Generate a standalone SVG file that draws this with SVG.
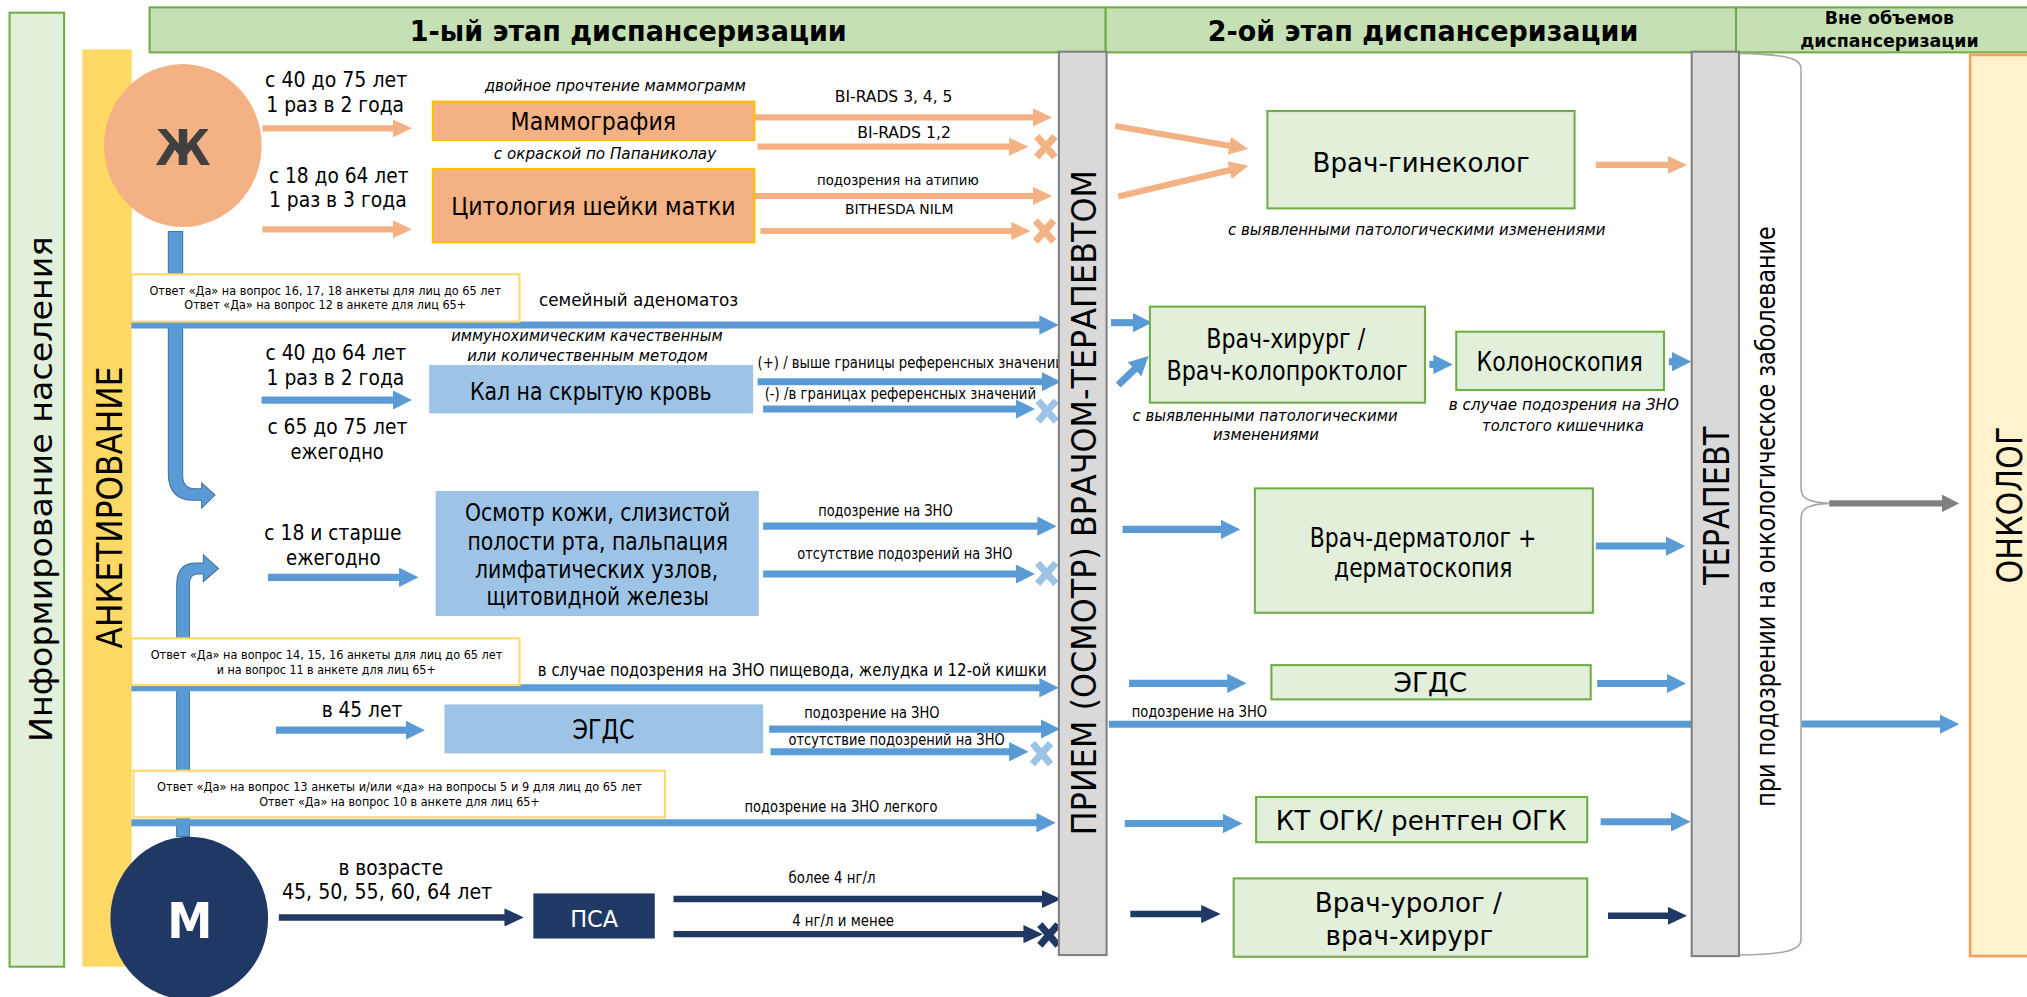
<svg xmlns="http://www.w3.org/2000/svg" width="2027" height="997" viewBox="0 0 2027 997">
<defs>
<style>
.t{font-family:"DejaVu Sans Condensed","DejaVu Sans",sans-serif;fill:#000}
.rt{font-family:"DejaVu Sans","Noto Sans",sans-serif;fill:#000}
.i{font-style:italic}
.b{font-weight:bold}
.green{fill:#E2EFDA;stroke:#70AD47;stroke-width:1.6}
.hdr{fill:#C5E0B4;stroke:#70AD47;stroke-width:1.6}
.org{fill:#F4B183;stroke:#FFC000;stroke-width:1.6}
.blu{fill:#9DC3E6}
.note{fill:#fff;stroke:#FFD966;stroke-width:1.6}
.bar{fill:#D9D9D9;stroke:#7F7F7F;stroke-width:1.6}
.ao{stroke:#F4B183;stroke-width:4.8;fill:none;marker-end:url(#mo)}
.ab{stroke:#5B9BD5;stroke-width:5.5;fill:none;marker-end:url(#mb)}
.ad{stroke:#203864;stroke-width:5;fill:none;marker-end:url(#md)}
.ag{stroke:#808080;stroke-width:4.7;fill:none;marker-end:url(#mg)}
.ln{stroke:#5B9BD5;stroke-width:5.5;fill:none}
.bent{fill:#5B9BD5;stroke:#41719C;stroke-width:0.8}
.xo{stroke:#F4B183}
.xb{stroke:#9DC3E6}
.xd{stroke:#203864}
</style>
<marker id="mo" markerUnits="userSpaceOnUse" markerWidth="15" markerHeight="14" viewBox="0 0 15 14" refX="1" refY="7" orient="auto"><path d="M0,0 L15,7 L0,14 Z" fill="#F4B183"/></marker>
<marker id="mb" markerUnits="userSpaceOnUse" markerWidth="15" markerHeight="15" viewBox="0 0 15 15" refX="1" refY="7.5" orient="auto"><path d="M0,0 L15,7.5 L0,15 Z" fill="#5B9BD5"/></marker>
<marker id="md" markerUnits="userSpaceOnUse" markerWidth="15" markerHeight="14" viewBox="0 0 15 14" refX="1" refY="7" orient="auto"><path d="M0,0 L15,7 L0,14 Z" fill="#203864"/></marker>
<marker id="mg" markerUnits="userSpaceOnUse" markerWidth="13.5" markerHeight="13.6" viewBox="0 0 13.5 13.6" refX="1" refY="6.8" orient="auto"><path d="M0,0 L13.5,6.8 L0,13.6 Z" fill="#808080"/></marker>
<path id="xm" d="M-7,-8 L7,8 M-7,8 L7,-8" fill="none" stroke-width="5.5"/>
</defs>
<rect width="2027" height="997" fill="#fff"/>
<g transform="scale(1.29273)">

<g id="n-inform">
<rect x="7.4" y="9.8" width="42.2" height="738" fill="#E2EFDA" stroke="#70AD47" stroke-width="1.6"/>
<text class="rt" font-size="24" text-anchor="middle" textLength="391" lengthAdjust="spacingAndGlyphs" transform="translate(40.3,378.5) rotate(-90)">Информирование населения</text>
</g>
<g id="n-anket">
<rect x="63.7" y="38.2" width="38.2" height="709.6" fill="#FFD966"/>
<text class="rt" font-size="28" text-anchor="middle" textLength="218" lengthAdjust="spacingAndGlyphs" transform="translate(94,392.6) rotate(-90)">АНКЕТИРОВАНИЕ</text>
</g>
<g id="n-header1">
<rect class="hdr" x="115.7" y="5.7" width="739.6" height="34.8"/>
<text class="t b" font-size="22" x="486" y="31.8" text-anchor="middle" textLength="338" lengthAdjust="spacingAndGlyphs">1-ый этап диспансеризации</text>
</g>
<g id="n-header2">
<rect class="hdr" x="855.3" y="5.7" width="487.6" height="34.8"/>
<text class="t b" font-size="22" x="1100.8" y="31.8" text-anchor="middle" textLength="333" lengthAdjust="spacingAndGlyphs">2-ой этап диспансеризации</text>
</g>
<g id="n-header3">
<rect class="hdr" x="1342.9" y="5.7" width="235" height="34.8"/>
<text class="t b" font-size="14" x="1461.6" y="18.8" text-anchor="middle" textLength="100" lengthAdjust="spacingAndGlyphs">Вне объемов</text>
<text class="t b" font-size="14" x="1461.6" y="36.4" text-anchor="middle" textLength="138" lengthAdjust="spacingAndGlyphs">диспансеризации</text>
</g>

<g id="connectors">
<path class="bent" d="M130.2,179 H141.3 V368 Q141.3,378 151,378 H156 V373.5 L166.3,383 L156,393 V387 H150 Q130.2,387 130.2,366 Z"/>
<path class="bent" d="M136.7,647 V452 Q136.7,435.5 152,435.5 H157.3 V429.3 L169,439.7 L157.3,450 V444 H153 Q146.5,444 146.5,452 V647 Z"/>
<line class="ab" x1="101.6" y1="251.4" x2="805" y2="251.4"/>
<line class="ab" x1="101.6" y1="532" x2="805" y2="532"/>
<line class="ab" x1="101.6" y1="636.4" x2="802.7" y2="636.4"/>

<line class="ao" x1="203" y1="99.3" x2="304.7" y2="99.3"/>
<line class="ao" x1="203" y1="177.4" x2="304.7" y2="177.4"/>
<line class="ao" x1="583.6" y1="90.8" x2="800" y2="90.8"/>
<line class="ao" x1="586" y1="113.5" x2="781.6" y2="113.5"/>
<use href="#xm" class="xo" x="809" y="113.5"/>
<line class="ao" x1="583.6" y1="151.6" x2="800" y2="151.6"/>
<line class="ao" x1="588.3" y1="178.7" x2="783.3" y2="178.7"/>
<use href="#xm" class="xo" x="808" y="178.7"/>
<line class="ao" x1="862.7" y1="97.5" x2="951.9" y2="112.9"/>
<line class="ao" x1="865" y1="152" x2="952.1" y2="131.4"/>
<line class="ao" x1="1234.5" y1="127.6" x2="1291" y2="127.6"/>

<line class="ab" x1="859.4" y1="249.6" x2="877.2" y2="249.6"/>
<line class="ab" x1="865" y1="297.8" x2="878.4" y2="285"/>
<line class="ab" x1="1105.7" y1="281.9" x2="1109.8" y2="281.9"/>
<line class="ab" x1="1290.9" y1="279.8" x2="1294.3" y2="279.8"/>
<line class="ab" x1="202.3" y1="309.5" x2="304.7" y2="309.5"/>
<line class="ab" x1="586" y1="295.3" x2="806.8" y2="295.3"/>
<line class="ab" x1="590.3" y1="316.4" x2="786.6" y2="316.4"/>
<use href="#xm" class="xb" x="810" y="318"/>
<line class="ab" x1="207.3" y1="446.6" x2="309.7" y2="446.6"/>
<line class="ab" x1="590.3" y1="407" x2="803.4" y2="407"/>
<line class="ab" x1="590.3" y1="444" x2="786.6" y2="444"/>
<use href="#xm" class="xb" x="809.7" y="443.5"/>
<line class="ab" x1="868.4" y1="409.5" x2="945.3" y2="409.5"/>
<line class="ab" x1="1234.5" y1="422.4" x2="1289.6" y2="422.4"/>
<line class="ab" x1="873.4" y1="528.6" x2="950.3" y2="528.6"/>
<line class="ab" x1="1235.5" y1="528.7" x2="1290.3" y2="528.7"/>
<line class="ab" x1="213.4" y1="564.8" x2="314.7" y2="564.8"/>
<line class="ab" x1="595" y1="564" x2="806" y2="564"/>
<line class="ab" x1="596" y1="581.5" x2="781.6" y2="581.5"/>
<use href="#xm" class="xb" x="805.7" y="583"/>
<line class="ln" x1="857.7" y1="560.2" x2="1330" y2="560.2"/>
<line class="ab" x1="1393.2" y1="560.1" x2="1501.6" y2="560.1"/>
<line class="ab" x1="870.1" y1="637" x2="947" y2="637"/>
<line class="ab" x1="1238.2" y1="635.7" x2="1293.6" y2="635.7"/>

<line class="ad" x1="215.7" y1="709.7" x2="391.2" y2="709.7"/>
<line class="ad" x1="521" y1="695.5" x2="806.8" y2="695.5"/>
<line class="ad" x1="521" y1="722.6" x2="792.7" y2="722.6"/>
<use href="#xm" class="xd" x="811.4" y="723.3"/>
<line class="ad" x1="874.4" y1="707.1" x2="930.2" y2="707.1"/>
<line class="ad" x1="1243.9" y1="708.4" x2="1291" y2="708.4"/>

<line class="ag" x1="1415" y1="389.4" x2="1503.1" y2="389.4"/>
</g>

<g id="n-note1">
<rect class="note" x="101.6" y="212.2" width="300.3" height="36.6"/>
<text class="t" font-size="10" x="251.6" y="228.3" text-anchor="middle" textLength="272" lengthAdjust="spacingAndGlyphs">Ответ «Да» на вопрос 16, 17, 18 анкеты для лиц до 65 лет</text>
<text class="t" font-size="10" x="251.6" y="239.4" text-anchor="middle" textLength="218" lengthAdjust="spacingAndGlyphs">Ответ «Да» на вопрос 12 в анкете для лиц 65+</text>
</g>
<g id="n-note2">
<rect class="note" x="101.6" y="493.8" width="300.3" height="36.2"/>
<text class="t" font-size="10" x="252.6" y="510" text-anchor="middle" textLength="272" lengthAdjust="spacingAndGlyphs">Ответ «Да» на вопрос 14, 15, 16 анкеты для лиц до 65 лет</text>
<text class="t" font-size="10" x="252.4" y="521.6" text-anchor="middle" textLength="169.4" lengthAdjust="spacingAndGlyphs">и на вопрос 11 в анкете для лиц 65+</text>
</g>
<g id="n-note3">
<rect class="note" x="103.3" y="596.2" width="411" height="36.1"/>
<text class="t" font-size="10" x="309" y="612" text-anchor="middle" textLength="375" lengthAdjust="spacingAndGlyphs">Ответ «Да» на вопрос 13 анкеты и/или «да» на вопросы 5 и 9 для лиц до 65 лет</text>
<text class="t" font-size="10" x="309" y="623.6" text-anchor="middle" textLength="217" lengthAdjust="spacingAndGlyphs">Ответ «Да» на вопрос 10 в анкете для лиц 65+</text>
</g>

<g id="n-zh">
<ellipse cx="141.4" cy="112.6" rx="61" ry="63" fill="#F4B183"/>
<text class="t b" font-size="39" x="141.5" y="127.8" text-anchor="middle" style="fill:#404040">Ж</text>
</g>
<g id="n-m">
<ellipse cx="146.4" cy="710.3" rx="61" ry="63" fill="#203864"/>
<text class="t b" font-size="39" x="146.8" y="725.9" text-anchor="middle" style="fill:#fff">М</text>
</g>

<g id="l-ages">
<text class="t" font-size="16.5" x="260" y="67.3" text-anchor="middle" textLength="110" lengthAdjust="spacingAndGlyphs">с 40 до 75 лет</text>
<text class="t" font-size="16.5" x="259.3" y="86.6" text-anchor="middle" textLength="106.6" lengthAdjust="spacingAndGlyphs">1 раз в 2 года</text>
<text class="t" font-size="16.5" x="262" y="141.3" text-anchor="middle" textLength="108" lengthAdjust="spacingAndGlyphs">с 18 до 64 лет</text>
<text class="t" font-size="16.5" x="261.3" y="160.1" text-anchor="middle" textLength="106.6" lengthAdjust="spacingAndGlyphs">1 раз в 3 года</text>
<text class="t" font-size="16.5" x="259.8" y="278.7" text-anchor="middle" textLength="109" lengthAdjust="spacingAndGlyphs">с 40 до 64 лет</text>
<text class="t" font-size="16.5" x="259.5" y="298.1" text-anchor="middle" textLength="106.6" lengthAdjust="spacingAndGlyphs">1 раз в 2 года</text>
<text class="t" font-size="16.5" x="261" y="336" text-anchor="middle" textLength="108.3" lengthAdjust="spacingAndGlyphs">с 65 до 75 лет</text>
<text class="t" font-size="16.5" x="260.8" y="355" text-anchor="middle" textLength="72" lengthAdjust="spacingAndGlyphs">ежегодно</text>
<text class="t" font-size="16.5" x="257.5" y="418" text-anchor="middle" textLength="106" lengthAdjust="spacingAndGlyphs">с 18 и старше</text>
<text class="t" font-size="16.5" x="257.8" y="437.2" text-anchor="middle" textLength="73" lengthAdjust="spacingAndGlyphs">ежегодно</text>
<text class="t" font-size="16.5" x="280" y="554.8" text-anchor="middle" textLength="62.4" lengthAdjust="spacingAndGlyphs">в 45 лет</text>
<text class="t" font-size="16.5" x="302.3" y="677.2" text-anchor="middle" textLength="81" lengthAdjust="spacingAndGlyphs">в возрасте</text>
<text class="t" font-size="16.5" x="299.4" y="695.3" text-anchor="middle" textLength="162.7" lengthAdjust="spacingAndGlyphs">45, 50, 55, 60, 64 лет</text>
</g>

<g id="n-mammo">
<rect class="org" x="334.8" y="78.6" width="248.8" height="29.7"/>
<text class="t" font-size="19" x="459" y="100.5" text-anchor="middle" textLength="128" lengthAdjust="spacingAndGlyphs">Маммография</text>
</g>
<g id="n-cyto">
<rect class="org" x="334.8" y="130.7" width="248.8" height="56.8"/>
<text class="t" font-size="19" x="459" y="166.6" text-anchor="middle" textLength="220" lengthAdjust="spacingAndGlyphs">Цитология шейки матки</text>
</g>
<g id="n-kal">
<rect class="blu" x="332" y="282.4" width="250.6" height="37.4"/>
<text class="t" font-size="19" x="457" y="309.2" text-anchor="middle" textLength="187" lengthAdjust="spacingAndGlyphs">Кал на скрытую кровь</text>
</g>
<g id="n-osmotr">
<rect class="blu" x="337" y="379.8" width="250" height="96.7"/>
<text class="t" font-size="19" x="462.3" y="402.8" text-anchor="middle" textLength="205" lengthAdjust="spacingAndGlyphs">Осмотр кожи, слизистой</text>
<text class="t" font-size="19" x="462.4" y="425.2" text-anchor="middle" textLength="201.5" lengthAdjust="spacingAndGlyphs">полости рта, пальпация</text>
<text class="t" font-size="19" x="461.5" y="447.2" text-anchor="middle" textLength="188" lengthAdjust="spacingAndGlyphs">лимфатических узлов,</text>
<text class="t" font-size="19" x="462.4" y="467.8" text-anchor="middle" textLength="172" lengthAdjust="spacingAndGlyphs">щитовидной железы</text>
</g>
<g id="n-egds1">
<rect class="blu" x="343.8" y="544.9" width="246.5" height="37.9"/>
<text class="t" font-size="20" x="466.8" y="572" text-anchor="middle" textLength="48" lengthAdjust="spacingAndGlyphs">ЭГДС</text>
</g>
<g id="n-psa">
<rect x="412.6" y="691.1" width="93.9" height="34.9" fill="#203864"/>
<text class="t" font-size="18" x="459.6" y="716.8" text-anchor="middle" textLength="37" lengthAdjust="spacingAndGlyphs" style="fill:#fff">ПСА</text>
</g>

<g id="l-labels">
<text class="t i" font-size="12.5" x="476" y="70.7" text-anchor="middle" textLength="202" lengthAdjust="spacingAndGlyphs">двойное прочтение маммограмм</text>
<text class="t i" font-size="12.5" x="468" y="123.2" text-anchor="middle" textLength="172" lengthAdjust="spacingAndGlyphs">с окраской по Папаниколау</text>
<text class="t" font-size="12.5" x="691.3" y="78.8" text-anchor="middle" textLength="91" lengthAdjust="spacingAndGlyphs">BI-RADS 3, 4, 5</text>
<text class="t" font-size="12.5" x="699.3" y="107.1" text-anchor="middle" textLength="72.5" lengthAdjust="spacingAndGlyphs">BI-RADS 1,2</text>
<text class="t" font-size="11.5" x="694.5" y="142.8" text-anchor="middle" textLength="125" lengthAdjust="spacingAndGlyphs">подозрения на атипию</text>
<text class="t" font-size="11.5" x="695.6" y="165.4" text-anchor="middle" textLength="84" lengthAdjust="spacingAndGlyphs">BITHESDA NILM</text>
<text class="t" font-size="13.5" x="494" y="236.7" text-anchor="middle" textLength="154" lengthAdjust="spacingAndGlyphs">семейный аденоматоз</text>
<text class="t i" font-size="12.5" x="454" y="264" text-anchor="middle" textLength="210" lengthAdjust="spacingAndGlyphs">иммунохимическим качественным</text>
<text class="t i" font-size="12.5" x="454.5" y="279.4" text-anchor="middle" textLength="186" lengthAdjust="spacingAndGlyphs">или количественным методом</text>
<text class="t" font-size="12.5" x="704.5" y="284.6" text-anchor="middle" textLength="237" lengthAdjust="spacingAndGlyphs">(+) / выше границы референсных значений</text>
<text class="t" font-size="12.5" x="696.5" y="308.3" text-anchor="middle" textLength="210" lengthAdjust="spacingAndGlyphs">(-) /в границах референсных значений</text>
<text class="t" font-size="12" x="684.9" y="398.8" text-anchor="middle" textLength="104" lengthAdjust="spacingAndGlyphs">подозрение на ЗНО</text>
<text class="t" font-size="12" x="700" y="432.4" text-anchor="middle" textLength="166.4" lengthAdjust="spacingAndGlyphs">отсутствие подозрений на ЗНО</text>
<text class="t" font-size="13" x="612.9" y="523.2" text-anchor="middle" textLength="393.7" lengthAdjust="spacingAndGlyphs">в случае подозрения на ЗНО пищевода, желудка и 12-ой кишки</text>
<text class="t" font-size="12" x="674.5" y="555.7" text-anchor="middle" textLength="104.6" lengthAdjust="spacingAndGlyphs">подозрение на ЗНО</text>
<text class="t" font-size="12" x="693.6" y="576.3" text-anchor="middle" textLength="167.2" lengthAdjust="spacingAndGlyphs">отсутствие подозрений на ЗНО</text>
<text class="t" font-size="12" x="927.8" y="554.4" text-anchor="middle" textLength="104.7" lengthAdjust="spacingAndGlyphs">подозрение на ЗНО</text>
<text class="t" font-size="12" x="650.5" y="628.4" text-anchor="middle" textLength="149.3" lengthAdjust="spacingAndGlyphs">подозрение на ЗНО легкого</text>
<text class="t" font-size="12" x="643.6" y="683.3" text-anchor="middle" textLength="67.2" lengthAdjust="spacingAndGlyphs">более 4 нг/л</text>
<text class="t" font-size="12" x="652.2" y="716.3" text-anchor="middle" textLength="78.8" lengthAdjust="spacingAndGlyphs">4 нг/л и менее</text>
<text class="t i" font-size="12.5" x="1096" y="181.8" text-anchor="middle" textLength="292" lengthAdjust="spacingAndGlyphs">с выявленными патологическими изменениями</text>
<text class="t i" font-size="12.5" x="978.6" y="325.5" text-anchor="middle" textLength="205" lengthAdjust="spacingAndGlyphs">с выявленными патологическими</text>
<text class="t i" font-size="12.5" x="979.3" y="340.4" text-anchor="middle" textLength="82" lengthAdjust="spacingAndGlyphs">изменениями</text>
<text class="t i" font-size="12.5" x="1209.7" y="317.3" text-anchor="middle" textLength="178" lengthAdjust="spacingAndGlyphs">в случае подозрения на ЗНО</text>
<text class="t i" font-size="12.5" x="1209" y="333.3" text-anchor="middle" textLength="125" lengthAdjust="spacingAndGlyphs">толстого кишечника</text>
</g>

<g id="n-ginekolog">
<rect class="green" x="980.4" y="85.9" width="237.6" height="75.3"/>
<text class="t" font-size="20.5" x="1099.4" y="133.1" text-anchor="middle" textLength="168" lengthAdjust="spacingAndGlyphs">Врач-гинеколог</text>
</g>
<g id="n-hirurg">
<rect class="green" x="889.5" y="237.2" width="212.8" height="74.3"/>
<text class="t" font-size="20" x="994.6" y="269.4" text-anchor="middle" textLength="123" lengthAdjust="spacingAndGlyphs">Врач-хирург /</text>
<text class="t" font-size="20" x="995.6" y="293.9" text-anchor="middle" textLength="186.6" lengthAdjust="spacingAndGlyphs">Врач-колопроктолог</text>
</g>
<g id="n-kolono">
<rect class="green" x="1126.5" y="256.6" width="160.7" height="45.1"/>
<text class="t" font-size="20" x="1206.5" y="286.8" text-anchor="middle" textLength="128.5" lengthAdjust="spacingAndGlyphs">Колоноскопия</text>
</g>
<g id="n-dermatolog">
<rect class="green" x="970.7" y="377.8" width="261.5" height="96.2"/>
<text class="t" font-size="20.5" x="1100.8" y="423.2" text-anchor="middle" textLength="175.3" lengthAdjust="spacingAndGlyphs">Врач-дерматолог +</text>
<text class="t" font-size="20.5" x="1101" y="446.4" text-anchor="middle" textLength="138" lengthAdjust="spacingAndGlyphs">дерматоскопия</text>
</g>
<g id="n-egds2">
<rect class="green" x="983.5" y="514.5" width="247" height="26.5"/>
<text class="t" font-size="20" x="1106.4" y="535.6" text-anchor="middle" textLength="57" lengthAdjust="spacingAndGlyphs">ЭГДС</text>
</g>
<g id="n-kt">
<rect class="green" x="971.7" y="616.5" width="256.1" height="35"/>
<text class="t" font-size="20.5" x="1099.4" y="642.4" text-anchor="middle" textLength="225" lengthAdjust="spacingAndGlyphs">КТ ОГК/ рентген ОГК</text>
</g>
<g id="n-urolog">
<rect class="green" x="954.3" y="679.5" width="273.5" height="60.6"/>
<text class="t" font-size="20.5" x="1089.4" y="705.5" text-anchor="middle" textLength="144.7" lengthAdjust="spacingAndGlyphs">Врач-уролог /</text>
<text class="t" font-size="20.5" x="1090.2" y="731.3" text-anchor="middle" textLength="129.6" lengthAdjust="spacingAndGlyphs">врач-хирург</text>
</g>

<g id="n-priem">
<rect class="bar" x="819.1" y="40" width="36.9" height="698.8"/>
<text class="rt" font-size="26.5" text-anchor="middle" textLength="514.5" lengthAdjust="spacingAndGlyphs" transform="translate(847.5,388.8) rotate(-90)">ПРИЕМ (ОСМОТР) ВРАЧОМ-ТЕРАПЕВТОМ</text>
</g>
<g id="n-brace">
<path d="M1345.2,41.3 C1382,42 1393.2,45 1393.2,53 V378 C1393.2,386 1400,388.6 1415,389.4 C1400,390.2 1393.2,392.5 1393.2,401 V727 C1393.2,735 1382,738 1346,738.8" fill="#fff" stroke="#A6A6A6" stroke-width="1.2"/>
<text class="rt" font-size="20" text-anchor="middle" textLength="449" lengthAdjust="spacingAndGlyphs" transform="translate(1373,399.5) rotate(-90)">при подозрении на онкологическое заболевание</text>
</g>
<g id="n-terapevt">
<rect class="bar" x="1308.6" y="40" width="36.6" height="699.6"/>
<text class="rt" font-size="27.5" text-anchor="middle" textLength="122.6" lengthAdjust="spacingAndGlyphs" transform="translate(1337.8,391.3) rotate(-90)">ТЕРАПЕВТ</text>
</g>
<g id="n-onkolog">
<rect x="1524" y="42.5" width="60" height="697.1" fill="#FFF2CC" stroke="#F4A15D" stroke-width="2"/>
<text class="rt" font-size="27.5" text-anchor="middle" textLength="121.3" lengthAdjust="spacingAndGlyphs" transform="translate(1564.3,390.7) rotate(-90)">ОНКОЛОГ</text>
</g>
</g>
</svg>
